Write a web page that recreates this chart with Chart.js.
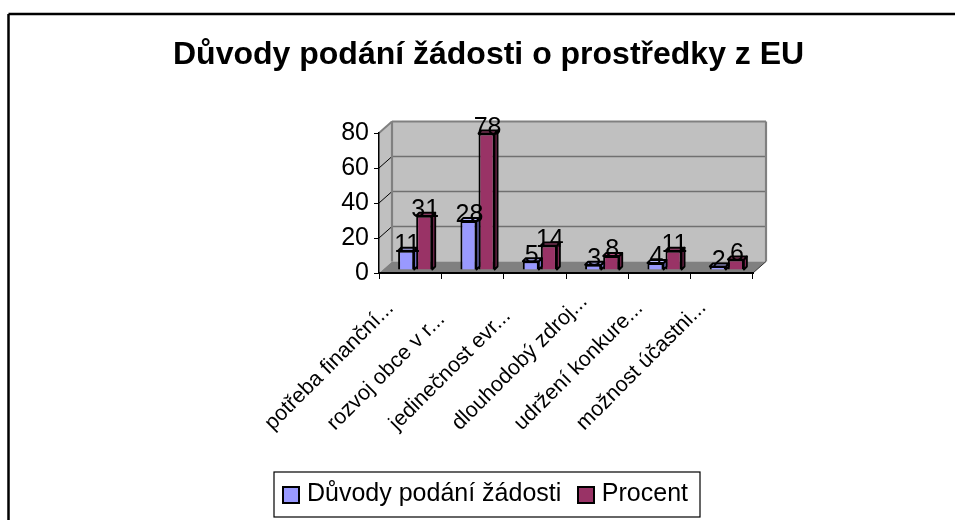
<!DOCTYPE html>
<html><head><meta charset="utf-8">
<style>html,body{margin:0;padding:0;background:#fff}canvas{display:block}</style>
<script src="https://cdn.jsdelivr.net/npm/chart.js@4"></script></head>
<body><canvas id="c" width="955" height="520"></canvas>
<script>
const categories = ['potřeba finanční...','rozvoj obce v r...','jedinečnost evr...','dlouhodobý zdroj...','udržení konkure...','možnost účastni...'];
const counts = [11,28,5,3,4,2];
const percents = [31,78,14,8,11,6];
const seriesNames = ['Důvody podání žádosti','Procent'];
const seriesColors = ['#9999ff','#993366'];
const titleText = 'Důvody podání žádosti o prostředky z EU';

const FONT = '"Liberation Sans", Arial, sans-serif';
const DX = 13, DY = 11.5;           // wall depth
const BX = 5, BY = 3, BD = 3;       // bar shift inside the depth, bar depth
function poly(ctx, pts, fill, stroke, lw){
  ctx.beginPath(); pts.forEach((p,i)=> i?ctx.lineTo(p[0],p[1]):ctx.moveTo(p[0],p[1])); ctx.closePath();
  if(fill){ctx.fillStyle=fill;ctx.fill();}
  if(stroke){ctx.strokeStyle=stroke;ctx.lineWidth=lw;ctx.lineJoin='round';ctx.stroke();}
}
function line(ctx,a,b,c,d,col,lw){ctx.beginPath();ctx.moveTo(a,b);ctx.lineTo(c,d);ctx.strokeStyle=col;ctx.lineWidth=lw;ctx.stroke();}
const shade = [{side:'#7a7ad0',top:'#b8b8ff'},{side:'#7a2850',top:'#b04a7c'}];

const scene = {
  id:'scene',
  afterLayout(chart){
    const l = chart.legend; l.left=266.5; l.right=730; l.top=462; l.bottom=517;
    chart.titleBlock.right = 830;
  },
  beforeDraw(chart){
    const c=chart.ctx, a=chart.chartArea, y=chart.scales.y;
    c.save();
    line(c,8.5,14,955,14,'#000',2.5); line(c,8.5,14,8.5,520,'#000',2.5);
    const L=a.left,R=a.right,T=a.top,B=a.bottom;
    poly(c,[[L,T],[L+DX,T-DY],[L+DX,B-DY],[L,B]],'#c0c0c0');
    poly(c,[[L+DX,T-DY],[R+DX,T-DY],[R+DX,B-DY],[L+DX,B-DY]],'#c0c0c0');
    poly(c,[[L,B],[L+DX,B-DY],[R+DX,B-DY],[R,B]],'#808080');
    y.ticks.forEach(t=>{
      const p=y.getPixelForValue(t.value);
      if(t.value>0 && t.value<y.max){
        line(c,L+DX,p-DY,R+DX,p-DY,'#707070',1.6);
        line(c,L,p,L+DX,p-DY,'#000',1);
      }
    });
    line(c,L,T,L+DX,T-DY,'#808080',2);
    line(c,L+DX,T-DY,R+DX,T-DY,'#808080',2.2);
    line(c,R+DX,T-DY,R+DX,B-DY,'#808080',2.2);
    line(c,L+DX,T-DY,L+DX,B-DY,'#808080',2.2);
    line(c,R,B,R+DX,B-DY,'#333',1);
    c.restore();
  },
  beforeDatasetDraw(chart){ chart.ctx.save(); chart.ctx.translate(BX,-BY); },
  afterDatasetDraw(chart,args){
    const c=chart.ctx, s=shade[args.index];
    args.meta.data.forEach(b=>{
      const l=b.x-b.width/2, r=b.x+b.width/2, t=b.y, u=b.base;
      poly(c,[[r,t],[r+BD,t-BD],[r+BD,u-BD],[r,u]],s.side,'#000',1.8);
      poly(c,[[l,t],[l+BD,t-BD],[r+BD,t-BD],[r,t]],s.top,'#000',1.8);
    });
    c.restore();
  },
  afterDatasetsDraw(chart){
    const c=chart.ctx;
    c.save();
    c.font='25px '+FONT; c.fillStyle='#000'; c.textAlign='center'; c.textBaseline='middle';
    chart.data.datasets.forEach((d,i)=>{
      chart.getDatasetMeta(i).data.forEach((b,j)=>{
        c.fillText(String(d.data[j]), b.x+BX+1, b.y-BY-5.5);
      });
    });
    const x=chart.scales.x;
    c.font='21.5px '+FONT; c.textAlign='left'; c.textBaseline='alphabetic';
    categories.forEach((t,i)=>{
      c.save();
      c.translate(x.getPixelForTick(i)-137.5, 431);
      c.rotate(-Math.PI/4);
      c.fillText(t,0,0);
      c.restore();
    });
    c.restore();
  },
  afterDraw(chart){
    const c=chart.ctx;
    c.save();
    c.strokeStyle='#000'; c.lineWidth=1.2;
    c.strokeRect(274,472,426,45);
    [283,578].forEach((sx,i)=>{
      c.fillStyle=seriesColors[i]; c.lineWidth=2;
      c.fillRect(sx,487,16,16); c.strokeRect(sx,487,16,16);
    });
    c.restore();
  }
};

new Chart(document.getElementById('c'),{
  type:'bar',
  data:{labels:categories,datasets:[
    {label:seriesNames[0],data:counts,backgroundColor:seriesColors[0],borderColor:'#000',borderWidth:2,clip:false},
    {label:seriesNames[1],data:percents,backgroundColor:seriesColors[1],borderColor:'#000',borderWidth:2,clip:false}
  ]},
  plugins:[scene],
  options:{
    responsive:false,animation:false,
    layout:{padding:{left:173,right:202,top:0,bottom:0}},
    datasets:{bar:{categoryPercentage:0.58,barPercentage:0.89}},
    plugins:{
      tooltip:{enabled:false},
      title:{display:true,text:titleText,align:'start',color:'#000',
        font:{family:FONT,size:32,weight:'bold',lineHeight:1},
        padding:{top:39,bottom:62}},
      legend:{position:'bottom',align:'start',
        labels:{color:'#000',font:{family:FONT,size:25},boxWidth:8,boxHeight:8,padding:20,
          generateLabels(chart){
            return chart.data.datasets.map((d,i)=>({text:d.label,fillStyle:'rgba(0,0,0,0)',strokeStyle:'rgba(0,0,0,0)',lineWidth:0,datasetIndex:i,fontColor:'#000'}));
          }}}
    },
    scales:{
      x:{grid:{display:true,drawOnChartArea:false,color:'#000',tickLength:6,offset:true},
        border:{color:'#000',width:2},ticks:{display:false},
        afterFit(s){s.height=247-s.chart.legend.height;}},
      y:{min:0,max:80,grid:{display:true,drawOnChartArea:false,color:'#000',tickLength:5},
        border:{color:'#000',width:1.5},
        ticks:{stepSize:20,color:'#000',font:{family:FONT,size:25},padding:5},
        afterFit(s){s.width=206;}}
    }
  }
});
</script></body></html>
